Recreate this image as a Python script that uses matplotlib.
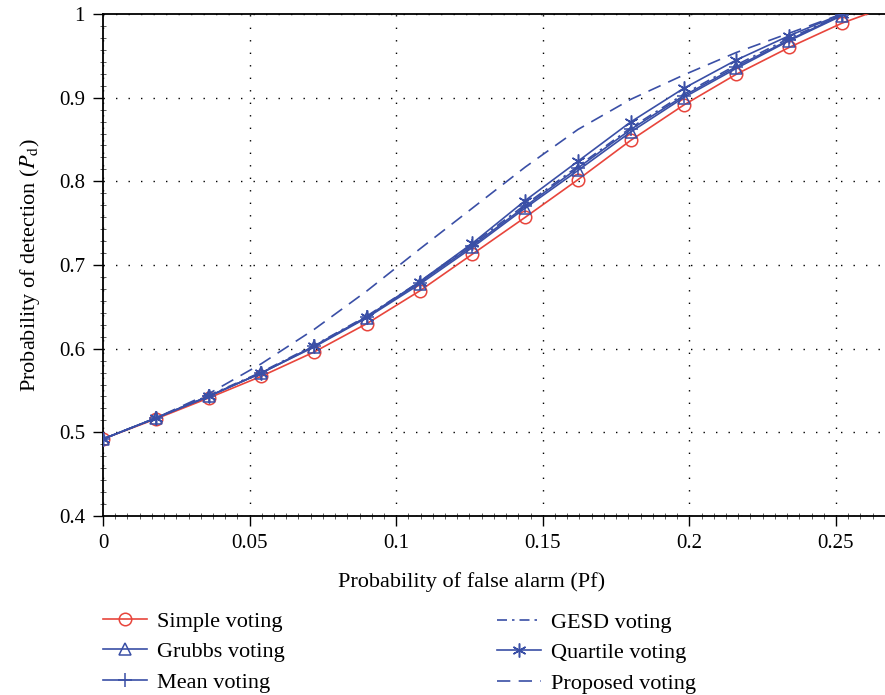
import matplotlib
matplotlib.use("Agg")
import matplotlib.pyplot as plt
from matplotlib.ticker import FixedLocator, AutoMinorLocator

plt.rcParams["font.family"] = ["Liberation Serif", "DejaVu Serif"]
plt.rcParams["mathtext.fontset"] = "stix"

# Probability of false alarm sample points
pf = [0, 0.018, 0.036, 0.054, 0.072, 0.090, 0.108, 0.126, 0.144,
      0.162, 0.180, 0.198, 0.216, 0.234, 0.252]
pf_simple = pf + [0.270]

# Probability of detection for each voting scheme
pd_simple = [0.492, 0.516, 0.541, 0.567, 0.596, 0.630, 0.669, 0.713, 0.757,
             0.802, 0.849, 0.891, 0.928, 0.960, 0.989, 1.012]
pd_grubbs = [0.492, 0.517, 0.543, 0.571, 0.602, 0.637, 0.677, 0.721, 0.768,
             0.813, 0.859, 0.900, 0.935, 0.968, 0.998]
pd_mean = [0.492, 0.517, 0.543, 0.571, 0.603, 0.638, 0.679, 0.723, 0.770,
           0.816, 0.862, 0.902, 0.937, 0.969, 0.999]
pd_gesd = [0.492, 0.517, 0.544, 0.572, 0.604, 0.639, 0.680, 0.725, 0.772,
           0.818, 0.864, 0.904, 0.939, 0.971, 0.999]
pd_quartile = [0.492, 0.517, 0.543, 0.571, 0.603, 0.638, 0.680, 0.726, 0.777,
               0.824, 0.871, 0.911, 0.945, 0.974, 1.000]
pd_proposed = [0.492, 0.517, 0.546, 0.582, 0.623, 0.669, 0.719, 0.768, 0.817,
               0.862, 0.898, 0.927, 0.954, 0.977, 1.000]

x_ticks = [0, 0.05, 0.1, 0.15, 0.2, 0.25]
x_labels = ["0", "0.05", "0.1", "0.15", "0.2", "0.25"]
y_ticks = [0.4, 0.5, 0.6, 0.7, 0.8, 0.9, 1.0]
y_labels = ["0.4", "0.5", "0.6", "0.7", "0.8", "0.9", "1"]

RED = "#e8453c"
BLUE = "#3a4fa6"

fig = plt.figure(figsize=(8.85, 6.95), dpi=100)
W, H = 885, 695
x0, x1, y_top, y_bot = 103, 894.6, 14, 516
ax = fig.add_axes([x0 / W, 1 - y_bot / H, (x1 - x0) / W, (y_bot - y_top) / H])

lw = 1.2
ms = 9
l_simple, = ax.plot(pf_simple, pd_simple, color=RED, lw=lw, marker="o", ms=ms,
                    mfc="none", mew=1.1, markevery=list(range(15)),
                    label="Simple voting", zorder=3)
l_grubbs, = ax.plot(pf, pd_grubbs, color=BLUE, lw=lw, marker="^", ms=ms,
                    mfc="none", mew=1.1, label="Grubbs voting", zorder=4)
l_mean, = ax.plot(pf, pd_mean, color=BLUE, lw=lw, marker="+", ms=ms + 1,
                  mew=1.1, label="Mean voting", zorder=4)
l_gesd, = ax.plot(pf, pd_gesd, color=BLUE, lw=lw, linestyle=(0, (6, 3, 1.5, 3)),
                  label="GESD voting", zorder=4)
l_quart, = ax.plot(pf, pd_quartile, color=BLUE, lw=lw, marker=(6, 2, 0),
                   ms=ms + 1, mew=1.1, label="Quartile voting", zorder=4)
l_prop, = ax.plot(pf, pd_proposed, color=BLUE, lw=lw, linestyle=(0, (8, 5)),
                  label="Proposed voting", zorder=4)

ax.set_xlim(0, 0.27)
ax.set_ylim(0.4, 1.0)
ax.xaxis.set_major_locator(FixedLocator(x_ticks))
ax.set_xticklabels(x_labels)
ax.yaxis.set_major_locator(FixedLocator(y_ticks))
ax.set_yticklabels(y_labels)
ax.xaxis.set_minor_locator(AutoMinorLocator(12))
ax.yaxis.set_minor_locator(AutoMinorLocator(7))

ax.tick_params(which="major", direction="out", length=7, width=1.0,
               labelsize=15, color="black")
ax.tick_params(axis="x", which="major", pad=6)
ax.tick_params(axis="y", which="major", pad=6)
ax.tick_params(which="minor", direction="inout", length=4, width=0.6,
               color="#444444")
ax.tick_params(top=False, right=False, which="both")

ax.grid(True, which="major", color="black", linestyle=(0, (1, 8)), lw=1.0)
for s in ["left", "bottom", "top", "right"]:
    ax.spines[s].set_linewidth(1.3)
    ax.spines[s].set_color("black")

ax.set_xlabel("Probability of false alarm (Pf)", fontsize=16)
ax.xaxis.set_label_coords((472 - x0) / (x1 - x0), -(582 - y_bot) / (y_bot - y_top))
ax.xaxis.label.set_va("center")
ax.set_ylabel(r"Probability of detection ($P_{\rm d}$)", fontsize=16,
              labelpad=12)

leg_kw = dict(frameon=False, fontsize=16, handlelength=2.0, handletextpad=0.45,
              labelspacing=0.45, borderaxespad=0, borderpad=0)
fig.legend(handles=[l_simple, l_grubbs, l_mean], loc="upper left",
           bbox_to_anchor=(103 / W, 1 - 611 / H), **leg_kw)
fig.legend(handles=[l_gesd, l_quart, l_prop], loc="upper left",
           bbox_to_anchor=(497 / W, 1 - 612 / H), **leg_kw)

fig.savefig("out.png", dpi=100)
